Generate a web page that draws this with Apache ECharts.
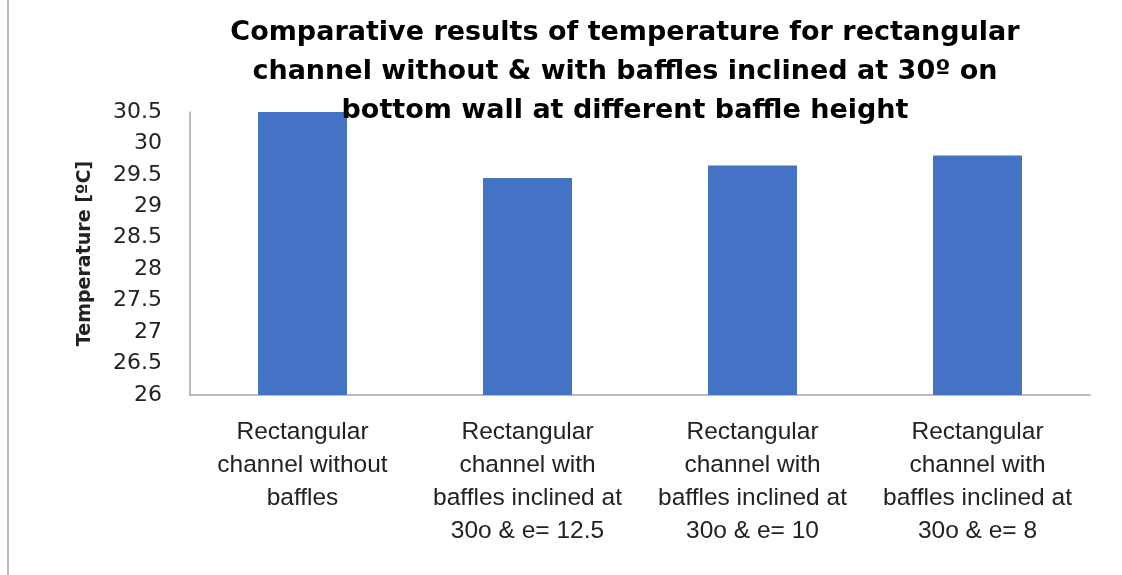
<!DOCTYPE html>
<html>
<head>
<meta charset="utf-8">
<script src="https://cdn.jsdelivr.net/npm/echarts@6/dist/echarts.min.js"></script>
<style>
  html, body { margin: 0; padding: 0; background: #fff; }
  #chart { width: 1122px; height: 575px; }
</style>
</head>
<body>
<div id="chart"></div>
<script>
// categories on the x axis (line breaks as in the picture)
var categories = [
  'Rectangular\nchannel without\nbaffles',
  'Rectangular\nchannel with\nbaffles inclined at\n30o & e= 12.5',
  'Rectangular\nchannel with\nbaffles inclined at\n30o & e= 10',
  'Rectangular\nchannel with\nbaffles inclined at\n30o & e= 8'
]
// temperature in degC
var temperature = [30.54, 29.45, 29.65, 29.81]
// y axis range
var yMin = 26
var yMax = 30.5
var yStep = 0.5

var myChart = echarts.init(document.getElementById('chart'))
var option = {
  animation: false,
  title: {
    text: 'Comparative results of temperature for rectangular\nchannel without & with baffles inclined at 30º on\nbottom wall at different baffle height',
    left: 620,
    top: 8,
    textAlign: 'center',
    textStyle: {
      fontFamily: 'DejaVu Sans',
      fontWeight: 'bold',
      fontSize: 27,
      lineHeight: 39,
      color: '#000'
    }
  },
  grid: {
    left: 190,
    right: 32,
    top: 112,
    bottom: 180,
    containLabel: false
  },
  xAxis: {
    type: 'category',
    data: categories,
    axisTick: { show: false },
    axisLine: { lineStyle: { color: '#a6a6a6', width: 1.5 } },
    axisLabel: {
      interval: 0,
      margin: 21,
      fontFamily: 'Liberation Sans',
      fontSize: 24.5,
      lineHeight: 33,
      color: '#222'
    }
  },
  yAxis: {
    type: 'value',
    min: yMin,
    max: yMax,
    interval: yStep,
    name: 'Temperature [ºC]',
    nameLocation: 'middle',
    nameRotate: 90,
    nameGap: 95,
    nameTextStyle: {
      fontFamily: 'DejaVu Sans',
      fontWeight: 'bold',
      fontSize: 19,
      color: '#222'
    },
    splitLine: { show: false },
    axisTick: { show: false },
    axisLine: { show: true, lineStyle: { color: '#a6a6a6', width: 1.5 } },
    axisLabel: {
      margin: 28,
      fontFamily: 'DejaVu Sans',
      fontSize: 22,
      color: '#222'
    }
  },
  graphic: [{
    type: 'line',
    shape: { x1: 8, y1: 0, x2: 8, y2: 575 },
    style: { stroke: '#a6a6a6', lineWidth: 1.5 }
  }],
  series: [{
    type: 'bar',
    data: temperature,
    barWidth: 89,
    itemStyle: { color: '#4472c4' }
  }]
}
myChart.setOption(option)
</script>
</body>
</html>
